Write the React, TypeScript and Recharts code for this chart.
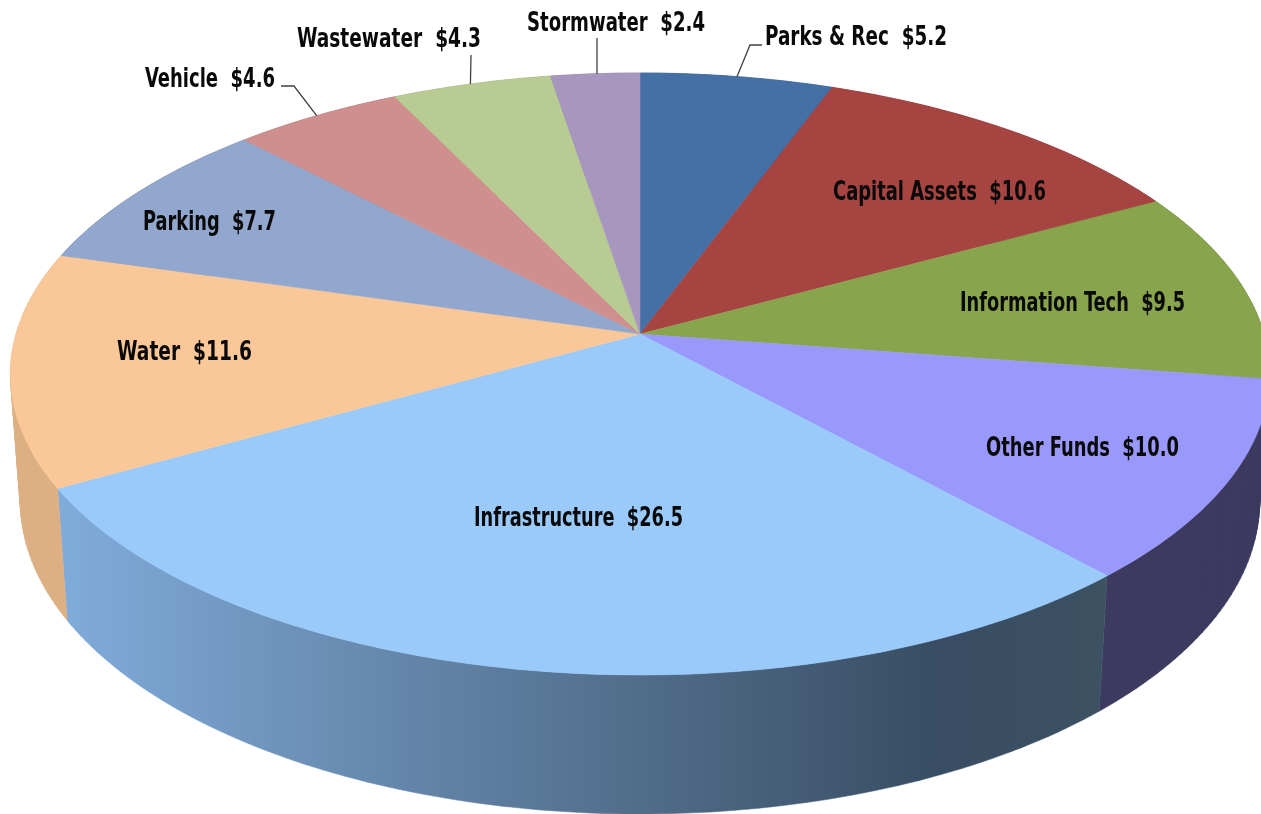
import React from 'react';
import { PieChart, Pie, Cell } from 'recharts';

const names = ['Parks & Rec', 'Capital Assets', 'Information Tech', 'Other Funds', 'Infrastructure', 'Water', 'Parking', 'Vehicle', 'Wastewater', 'Stormwater'];
const amounts = [5.2, 10.6, 9.5, 10.0, 26.5, 11.6, 7.7, 4.6, 4.3, 2.4];
const topColors = ['#4470A5', '#A64442', '#88A44D', '#9999FB', '#99CAFA', '#FAC898', '#92A7CE', '#CF8F8E', '#B8CB92', '#A796BD'];
const sideColors = ['#38597F', '#7A3332', '#64793A', '#3D3A60', 'url(#infraWall)', '#DDB084', '#6D7D9A', '#996A6A', '#89976C', '#7C708C'];

const data = names.map((name, i) => ({ name, value: amounts[i] }));

// label placement, baseline y and measured width of each text
const labelLayout = [
  { left: 765, y: 45, width: 182, elbow: [[750, 45], [762, 45]], shift: 0 },
  { left: 833, y: 200, width: 213 },
  { left: 960, y: 311, width: 225 },
  { left: 986, y: 456, width: 193 },
  { left: 474, y: 526, width: 209 },
  { left: 117, y: 360, width: 135 },
  { left: 143, y: 230, width: 133 },
  { left: 145, y: 87, width: 130, elbow: [[294, 86], [281, 86]], shift: 0 },
  { left: 297, y: 47, width: 184, elbow: [[471, 55]], shift: 0.1 },
  { left: 527, y: 31, width: 178, elbow: [[597, 38]], shift: -0.2 },
];

// perspective of the pie disc, fitted to the picture (z = 0 top face, z = 1 bottom rim)
const CX = 640;
const CY = 334;
const RX = 624;
const RY = 295.7;
const TILT = 0.1329;
const DEPTH = 128;
const DEPTH_W = 0.0156;

const project = (angle: number, z = 0) => {
  const rad = (angle * Math.PI) / 180;
  const u = Math.cos(rad);
  const v = Math.sin(rad);
  const w = 1 + TILT * v + DEPTH_W * z;
  return [CX + (RX * u) / w, CY - (RY * v - DEPTH * z) / w];
};

const arcPoints = (start: number, end: number, z = 0) => {
  const steps = Math.max(2, Math.ceil(Math.abs(end - start)));
  const pts = [];
  for (let i = 0; i <= steps; i++) pts.push(project(start + ((end - start) * i) / steps, z));
  return pts;
};

const toPath = (pts: number[][]) => 'M' + pts.map((p) => `${p[0].toFixed(1)},${p[1].toFixed(1)}`).join('L') + 'Z';

const signedArea = (pts: number[][]) =>
  pts.reduce((sum, p, i) => {
    const q = pts[(i + 1) % pts.length];
    return sum + p[0] * q[1] - q[0] * p[1];
  }, 0);

const FaceSector = (props: any) => (
  <path d={toPath([[CX, CY], ...arcPoints(props.startAngle, props.endAngle)])} fill={props.fill} stroke={props.fill} strokeWidth={0.5} />
);

// one quad per step in a single path, all wound the same way, so the straight
// silhouette edges of the wall are covered and no seams show
const WallSector = (props: any) => {
  const top = arcPoints(props.startAngle, props.endAngle);
  const bottom = arcPoints(props.startAngle, props.endAngle, 1);
  const d = top
    .slice(1)
    .map((p, i) => {
      const quad = [top[i], p, bottom[i + 1], bottom[i]];
      return toPath(signedArea(quad) < 0 ? quad.reverse() : quad);
    })
    .join('');
  return <path d={d} fill={props.fill} fillRule="nonzero" stroke={props.fill} strokeWidth={0.5} />;
};

const renderLabel = (props: any) => {
  const layout = labelLayout[props.index];
  const amount = amounts[props.index].toFixed(1);
  let line = null;
  if (layout.elbow) {
    const start = project(props.midAngle + layout.shift);
    const pts = [start, ...layout.elbow].map((p) => p.join(',')).join(' ');
    line = <polyline points={pts} fill="none" stroke="#404040" strokeWidth={1.3} />;
  }
  return (
    <g>
      {line}
      <text
        x={layout.left}
        y={layout.y}
        textLength={layout.width}
        lengthAdjust="spacingAndGlyphs"
        fill="#0A0A0A"
        fontFamily="'Liberation Sans Narrow', 'DejaVu Sans Condensed', sans-serif"
        fontWeight="bold"
        fontSize={26}
        style={{ whiteSpace: 'pre' }}
      >
        {`${props.name}  $${amount}`}
      </text>
    </g>
  );
};

export default function App() {
  return (
    <div style={{ position: 'absolute', left: 0, top: 0, width: 1261, height: 814, background: '#fff', overflow: 'hidden' }}>
      <div style={{ filter: 'blur(0.5px)' }}>
        <PieChart width={1261} height={814} margin={{ top: 0, right: 0, bottom: 0, left: 0 }}>
          <defs>
            <linearGradient id="infraWall" gradientUnits="userSpaceOnUse" x1="58" y1="0" x2="1108" y2="0">
              <stop offset="0%" stopColor="#80ACDB" />
              <stop offset="30%" stopColor="#6789AE" />
              <stop offset="58%" stopColor="#4F6A86" />
              <stop offset="84%" stopColor="#384D63" />
              <stop offset="100%" stopColor="#3C5161" />
            </linearGradient>
          </defs>
          <Pie
            data={data}
            dataKey="value"
            nameKey="name"
            cx={CX}
            cy={CY}
            outerRadius={RX}
            startAngle={90}
            endAngle={-270}
            stroke="none"
            shape={WallSector}
            isAnimationActive={false}
          >
            {names.map((name, i) => (
              <Cell key={name} fill={sideColors[i]} />
            ))}
          </Pie>
          <Pie
            data={data}
            dataKey="value"
            nameKey="name"
            cx={CX}
            cy={CY}
            outerRadius={RX}
            startAngle={90}
            endAngle={-270}
            stroke="none"
            shape={FaceSector}
            label={renderLabel}
            labelLine={false}
            isAnimationActive={false}
          >
            {names.map((name, i) => (
              <Cell key={name} fill={topColors[i]} />
            ))}
          </Pie>
        </PieChart>
      </div>
    </div>
  );
}
